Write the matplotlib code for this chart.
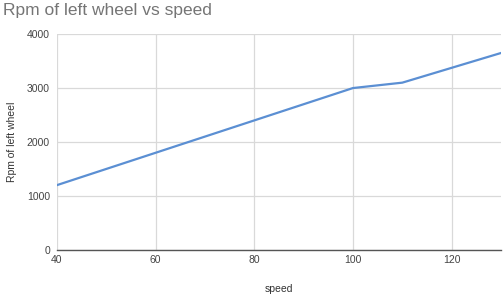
import matplotlib.pyplot as plt

plt.rcParams['font.family'] = ['Liberation Sans', 'DejaVu Sans']

# data
speed = [40, 60, 80, 100, 110, 120, 130]
rpm = [1200, 1800, 2400, 3000, 3100, 3375, 3650]

x_ticks = [40, 60, 80, 100, 120]
y_ticks = [0, 1000, 2000, 3000, 4000]

fig = plt.figure(figsize=(5.03, 2.94), dpi=100)
ax = fig.add_axes([0.113, 0.150, 0.883, 0.734])

ax.plot(speed, rpm, color='#5b8fd3', linewidth=1.6)

ax.set_xlim(40, 130)
ax.set_ylim(0, 4000)
ax.set_xticks(x_ticks)
ax.set_yticks(y_ticks)
ax.grid(True, color='#d9d9d9', linewidth=0.9)
ax.set_axisbelow(True)

for s in ['top', 'right', 'left']:
    ax.spines[s].set_visible(False)
ax.spines['bottom'].set_color('#555555')
ax.spines['bottom'].set_linewidth(1.0)

ax.tick_params(length=0, labelsize=7.5, labelcolor='#444444')
ax.tick_params(axis='x', pad=4)
ax.tick_params(axis='y', pad=5)

ax.set_xlabel('speed', fontsize=7.5, color='#333333', labelpad=13)
ax.set_ylabel('Rpm of left wheel', fontsize=7.5, color='#333333', labelpad=7)

fig.text(0.006, 0.99, 'Rpm of left wheel vs speed', fontsize=12.5,
         color='#757575', ha='left', va='top')

plt.savefig('out.png', dpi=100)
